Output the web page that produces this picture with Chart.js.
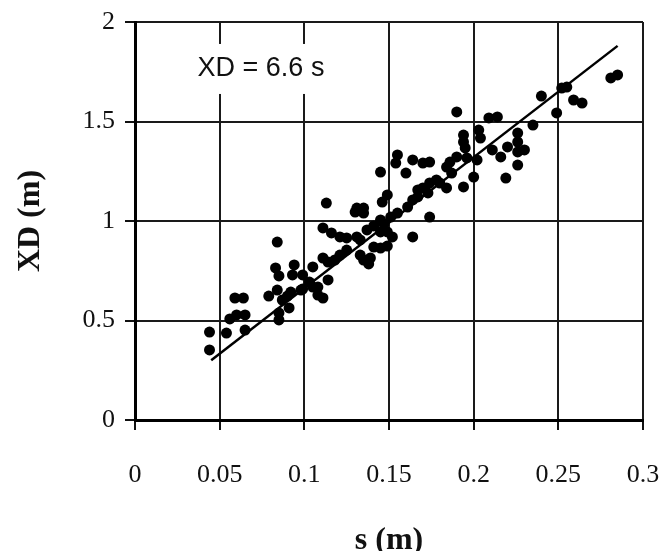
<!DOCTYPE html>
<html>
<head>
<meta charset="utf-8">
<script src="https://cdn.jsdelivr.net/npm/chart.js@4"></script>
<style>
  html, body { margin: 0; padding: 0; background: #fff; }
  canvas { display: block; }
</style>
</head>
<body>
<canvas id="chart" width="667" height="551"></canvas>
<script>
// Measured points: s (m) vs XD (m)
const sValues = [
    0.044, 0.044, 0.054, 0.056, 0.060, 0.065, 0.065, 0.059, 0.064, 0.079,
    0.083, 0.085, 0.084, 0.084, 0.087, 0.090, 0.091, 0.085, 0.085, 0.092,
    0.094, 0.093, 0.099, 0.103, 0.099, 0.105, 0.108, 0.111, 0.105, 0.111,
    0.114, 0.114, 0.108, 0.098, 0.113, 0.111, 0.116, 0.121, 0.125, 0.121,
    0.125, 0.131, 0.135, 0.135, 0.130, 0.133, 0.137, 0.141, 0.145, 0.149,
    0.147, 0.141, 0.139, 0.138, 0.145, 0.149, 0.133, 0.152, 0.155, 0.151,
    0.145, 0.149, 0.146, 0.145, 0.154, 0.155, 0.160, 0.164, 0.170, 0.174,
    0.161, 0.164, 0.167, 0.167, 0.170, 0.173, 0.174, 0.178, 0.174, 0.164,
    0.184, 0.180, 0.186, 0.190, 0.184, 0.187, 0.196, 0.202, 0.194, 0.190,
    0.194, 0.194, 0.195, 0.203, 0.204, 0.200, 0.209, 0.214, 0.211, 0.216,
    0.220, 0.226, 0.230, 0.226, 0.226, 0.219, 0.235, 0.240, 0.252, 0.255,
    0.249, 0.259, 0.264, 0.281, 0.285, 0.131, 0.118, 0.135, 0.226
];
const xdValues = [
    0.442, 0.352, 0.437, 0.508, 0.528, 0.528, 0.452, 0.613, 0.613, 0.623,
    0.764, 0.724, 0.894, 0.653, 0.603, 0.623, 0.563, 0.538, 0.503, 0.643,
    0.779, 0.729, 0.729, 0.693, 0.658, 0.668, 0.628, 0.613, 0.769, 0.814,
    0.794, 0.704, 0.668, 0.653, 1.090, 0.965, 0.940, 0.920, 0.915, 0.829,
    0.854, 1.065, 1.065, 1.040, 1.045, 0.905, 0.955, 0.975, 0.945, 0.945,
    0.985, 0.869, 0.814, 0.784, 0.864, 0.874, 0.829, 0.920, 1.040, 1.020,
    1.005, 1.131, 1.095, 1.246, 1.291, 1.332, 1.241, 1.307, 1.291, 1.296,
    1.070, 1.106, 1.121, 1.156, 1.166, 1.141, 1.191, 1.206, 1.020, 0.920,
    1.166, 1.191, 1.296, 1.322, 1.271, 1.241, 1.317, 1.307, 1.171, 1.548,
    1.432, 1.397, 1.367, 1.457, 1.417, 1.221, 1.518, 1.523, 1.357, 1.322,
    1.372, 1.347, 1.357, 1.442, 1.281, 1.216, 1.482, 1.628, 1.668, 1.673,
    1.543, 1.608, 1.593, 1.719, 1.734, 0.920, 0.804, 0.804, 1.397
];

// Fitted line XD = 6.6 s, end points
const fitS = [0.045, 0.285];
const fitXD = [0.30, 1.88];

// Tick values and labels
const xTickValues = [0, 0.05, 0.1, 0.15, 0.2, 0.25, 0.3];
const xTickLabels = ['0', '0.05', '0.1', '0.15', '0.2', '0.25', '0.3'];
const yTickValues = [0, 0.5, 1, 1.5, 2];
const yTickLabels = ['0', '0.5', '1', '1.5', '2'];

const annotationText = 'XD = 6.6 s';
const annotationAt = { x: 0.0744, y: 1.764 };

const pairs = (xs, ys) => xs.map((x, i) => ({ x: x, y: ys[i] }));

// Draw the "XD = 6.6 s" label on a white box over the grid
const annotationPlugin = {
    id: 'annotation',
    beforeDatasetsDraw(chart) {
        const ctx = chart.ctx;
        const cx = chart.scales.x.getPixelForValue(annotationAt.x);
        const cy = chart.scales.y.getPixelForValue(annotationAt.y);
        ctx.save();
        ctx.font = '27px "Liberation Sans", Arial, sans-serif';
        const w = ctx.measureText(annotationText).width;
        ctx.fillStyle = '#fff';
        ctx.fillRect(cx - w / 2 - 6, cy - 25, w + 12, 50);
        ctx.fillStyle = '#111';
        ctx.textAlign = 'center';
        ctx.textBaseline = 'middle';
        ctx.fillText(annotationText, cx, cy);
        ctx.restore();
    }
};

const tickFont = { family: '"Liberation Serif", "Times New Roman", serif', size: 26 };
const titleFont = { family: '"Liberation Serif", "Times New Roman", serif', size: 32, weight: 'bold' };

new Chart(document.getElementById('chart'), {
    type: 'scatter',
    data: {
        datasets: [
            {
                type: 'line',
                data: pairs(fitS, fitXD),
                borderColor: '#000',
                borderWidth: 2.5,
                pointRadius: 0,
                fill: false,
                order: 1
            },
            {
                data: pairs(sValues, xdValues),
                backgroundColor: '#000',
                borderColor: '#000',
                pointRadius: 5.5,
                pointBorderWidth: 0,
                order: 2
            }
        ]
    },
    options: {
        responsive: false,
        animation: false,
        devicePixelRatio: 1,
        layout: { padding: { top: 22, right: 24, left: 0, bottom: 0 } },
        plugins: {
            legend: { display: false },
            tooltip: { enabled: false }
        },
        scales: {
            x: {
                type: 'linear',
                min: 0,
                max: 0.3,
                afterFit: scale => {
                    scale.height = 131;
                    scale.paddingLeft = 0;
                    scale.paddingRight = 0;
                },
                afterBuildTicks: scale => { scale.ticks = xTickValues.map(v => ({ value: v })); },
                ticks: {
                    color: '#111',
                    font: tickFont,
                    padding: 30,
                    maxRotation: 0,
                    callback: (v, i) => xTickLabels[i]
                },
                grid: { color: '#1a1a1a', lineWidth: 2, tickLength: 10, tickColor: '#111', tickWidth: 2 },
                border: { color: '#000', width: 3 },
                title: { display: true, text: 's (m)', color: '#111', font: titleFont, padding: { top: 0, bottom: -9 } }
            },
            y: {
                type: 'linear',
                min: 0,
                max: 2,
                afterFit: scale => {
                    scale.width = 135;
                    scale.paddingTop = 0;
                    scale.paddingBottom = 0;
                },
                afterBuildTicks: scale => { scale.ticks = yTickValues.map(v => ({ value: v })); },
                ticks: {
                    color: '#111',
                    font: tickFont,
                    padding: 10,
                    callback: (v, i) => yTickLabels[i]
                },
                grid: { color: '#1a1a1a', lineWidth: 2, tickLength: 10, tickColor: '#111', tickWidth: 2 },
                border: { color: '#000', width: 3 },
                title: { display: true, text: 'XD (m)', color: '#111', font: titleFont, padding: { top: 12, bottom: 0 } }
            }
        }
    },
    plugins: [annotationPlugin]
});
</script>
</body>
</html>
